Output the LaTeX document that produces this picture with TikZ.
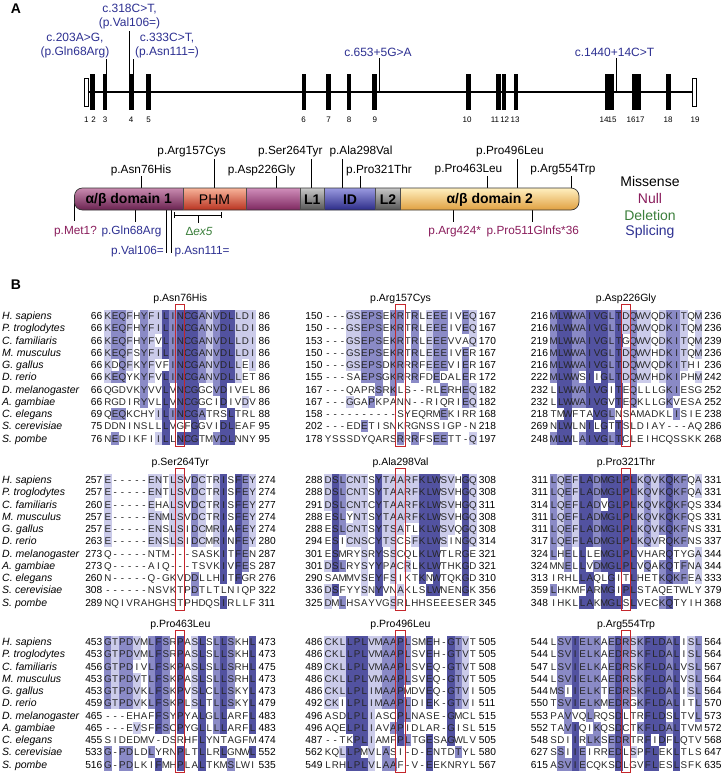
\documentclass[tikz,border=0pt]{standalone}
\usepackage{fontspec}
\setmainfont{Liberation Sans}
\usetikzlibrary{positioning}

\definecolor{var-blue}{HTML}{2D3092}
\definecolor{var-null}{HTML}{8A1D5C}
\definecolor{var-del}{HTML}{3B7F3B}
\definecolor{aln-dark}{RGB}{82,82,160}
\definecolor{aln-mid}{RGB}{138,138,198}
\definecolor{aln-light}{RGB}{203,203,234}
\definecolor{box-red}{HTML}{C4262B}
\definecolor{dom1-top}{HTML}{C98BB0}
\definecolor{dom1-mid}{HTML}{96467A}
\definecolor{dom1-bot}{HTML}{6A2250}
\definecolor{phm-top}{HTML}{F8B49A}
\definecolor{phm-mid}{HTML}{E0604A}
\definecolor{phm-bot}{HTML}{B83220}
\definecolor{cen-top}{HTML}{D08EBA}
\definecolor{cen-mid}{HTML}{A8457F}
\definecolor{cen-bot}{HTML}{7E2860}
\definecolor{lnk-top}{HTML}{C8C8C8}
\definecolor{lnk-mid}{HTML}{8C8C8C}
\definecolor{lnk-bot}{HTML}{555555}
\definecolor{id-top}{HTML}{9A9AE0}
\definecolor{id-mid}{HTML}{5656B4}
\definecolor{id-bot}{HTML}{2C2C88}
\definecolor{dom2-top}{HTML}{FFF0C0}
\definecolor{dom2-mid}{HTML}{F6CB72}
\definecolor{dom2-bot}{HTML}{E0A040}

\tikzset{
  exon/.style={fill=black, minimum width=4.6pt, minimum height=36pt, inner sep=0pt, outer sep=0pt},
  utr/.style={draw=black, fill=white, line width=0.7pt, minimum width=4.2pt, minimum height=28pt, inner sep=0pt, outer sep=0pt},
  exnum/.style={font=\fontsize{8}{8}\selectfont, inner sep=0pt},
  cvar/.style={font=\fontsize{12}{14}\selectfont, text=var-blue, align=center, inner sep=0pt},
  varline/.style={line width=0.8pt},
  plab/.style={font=\fontsize{11.8}{11.8}\selectfont, inner sep=0pt},
  domtext/.style={font=\fontsize{14}{14}\selectfont\bfseries, inner sep=0pt},
  legtext/.style={font=\fontsize{14}{14}\selectfont, inner sep=0pt},
  vtick/.style={line width=0.8pt},
  paneltag/.style={font=\fontsize{14}{14}\selectfont\bfseries, inner sep=0pt},
  species/.style={font=\fontsize{10.5}{10.5}\selectfont\itshape, inner sep=0pt, anchor=base west},
  res/.style={font=\fontsize{9.8}{9.8}\selectfont, text=black!85, inner sep=0pt, anchor=base},
  alnnum/.style={font=\fontsize{10.2}{10.2}\selectfont, inner sep=0pt},
  alntitle/.style={font=\fontsize{10.5}{10.5}\selectfont, inner sep=0pt},
  redbox/.style={draw=box-red, line width=1.1pt},
}

% alignment helpers: split rows into cells, shade by percent identity
\newcount\alncol
\newcount\alnhits
\newcount\alnk
\def\alngap{-}
\def\alnw{7.24}
\def\alnh{12.25}
\def\alnsplit#1#2{%
  \global\alncol=0
  \edef\alnrowid{#1}%
  \expandafter\alnsplitnext#2\relax}
\def\alnsplitnext#1{%
  \ifx#1\relax
  \else
    \global\advance\alncol by 1
    \expandafter\xdef\csname aln@\alnrowid @\the\alncol\endcsname{#1}%
    \expandafter\alnsplitnext
  \fi}
\def\alnshade#1#2{%
  \expandafter\let\expandafter\alnme\csname aln@#1@#2\endcsname
  \global\alnhits=0
  \alnk=0
  \loop\ifnum\alnk<11
    \advance\alnk by 1
    \expandafter\let\expandafter\alnother\csname aln@\the\alnk @#2\endcsname
    \ifx\alnme\alnother\global\advance\alnhits by 1 \fi
  \repeat
  \ifx\alnme\alngap\global\alnhits=0 \fi
  \ifnum\alnhits>8 \def\alnfill{aln-dark}%
  \else\ifnum\alnhits>6 \def\alnfill{aln-mid}%
  \else\def\alnfill{aln-light}%
  \fi\fi}

\newcommand\alnpanel[5]{%
  \foreach \st/\sq/\en [count=\ri] in #5 {\alnsplit{\ri}{\sq}}%
  \foreach \ri in {1,...,11}{%
    \foreach \ci in {1,...,21}{%
      \alnshade{\ri}{\ci}%
      \ifnum\alnhits>4
        \fill[fill=\alnfill] ({#2+(\ci-1)*\alnw-0.1},{#3+(\ri-1.5)*\alnh-0.1}) rectangle ++(\alnw+0.2,\alnh+0.2);
      \fi
    }%
  }%
  \foreach \st/\sq/\en [count=\ri] in #5 {%
    \node[alnnum, anchor=base east] (#1s\ri) at ({#2-1.8},{#3+(\ri-1)*\alnh+3.5}) {\st};
    \node[alnnum, anchor=base west] (#1e\ri) at ({#2+21*\alnw+2.2},{#3+(\ri-1)*\alnh+3.5}) {\en};
    \foreach \ci in {1,...,21}{%
      \node[res] (#1r\ri c\ci) at ({#2+(\ci-0.5)*\alnw},{#3+(\ri-1)*\alnh+3.5}) {\csname aln@\ri @\ci\endcsname};
    }%
  }%
  \draw[redbox] ({#2+10*\alnw-1},{#3-0.5*\alnh-5}) rectangle ({#2+11*\alnw+1},{#3+10.5*\alnh+1.5});
  \node[alntitle] (#1t) at ({#2+10.5*\alnw},{#3-17}) {#4};
}

% sequences
\def\alnrowsA{66/KEQFHYFILINCGANVDLLDI/86,66/KEQFHYFILINCGANVDLLDI/86,%
66/KEQFHYFVLINCGANVDLLDI/86,66/KEQFSYFILINCGANVDLLDI/86,%
66/KDQFKYFVFINCGANVDLLEI/86,66/KEQYKYFVLINCGANVDLLET/86,%
66/QGDVKYVVLVNCGGCVDIVEL/86,66/RGDIRYVLLVNCGGCIDIVDV/86,%
69/QEQKCHYILINCGATRSLTRL/88,75/DDNINSLLLVGFGGVIDLEAF/95,%
76/NEDIKFIILLNCGTMVDLNNY/95}
\def\alnrowsB{150/---GSEPSEKRTRLEEEIVEQ/167,150/---GSEPSEKRTRLEEEIVEQ/167,%
153/---GSEPSEKRTRLEEEVVAQ/170,150/---GSEPSEKRTRLEEEIVER/167,%
150/---GSEPSDKRRRFEEEVIER/167,155/---SAEPSGKRRRFDEDALER/172,%
167/---QAPRSRKLS--RLERHEQ/182,167/---GGAPKPANN--RIQRIEQ/182,%
158/----------SYEQRMEKIRR/168,202/---EDETISNKRGNSSIGP-N/218,%
178/YSSSDYQARSRRRFSEETT-Q/197}
\def\alnrowsC{216/MLWWAIVGLTDQWVQDKITQM/236,216/MLWWAIVGLTDQWVQDKITQM/236,%
219/MLWWAIVGLTGQWVQDKITQM/239,216/MLWWAIVGLTDQWVHDKITQM/236,%
216/MLWWAIVGLTDQWVQDKITHI/236,222/MLWWSIIGLTDQWVHDKIPHM/242,%
232/LLWWAIVGITEQLLLGKIESG/252,232/LLWWAIVGVTEQKLLGKVESA/252,%
218/TMWFTAVGLNSAMADKLISIE/238,269/NLWLNILGTTSLDIAY---AQ/286,%
248/MLWLAIVGLTCLEIHCQSSKK/268}
\def\alnrowsD{257/E-----ENTLSVDCTRISFEY/274,257/E-----ENTLSVDCTRISFEY/274,%
260/E-----EHALSVDCTRISFEY/277,257/E-----ENMLSVDCTRISFEY/274,%
257/E-----ENSLSIDCMRIAFEY/274,263/E-----ENSLSIDCMRINFEY/280,%
273/Q-----NTM---SASKITFEN/287,273/Q-----AIQ---TSVKIVFES/287,%
260/N-----Q-GKVDDLLHITFGR/276,308/------NSVKTPDTLTLNIQP/322,%
289/NQIVRAHGHSTPHDQSIRLLF/311}
\def\alnrowsE{288/DSLCNTSYTAARFKLWSVHGQ/308,288/DSLCNTSYTAARFKLWSVHGQ/308,%
291/DSLCNTCYTAARFKLWSVHGQ/311,288/ESLYNTSYTAARFKLWSVHGQ/308,%
288/ESLCNTSYTSATLKLWSVQGQ/308,294/ESICNSCYTSCSFKLWSINGQ/314,%
301/ESMRYSRYSSCQLKLWTLRGE/321,301/DSLRYSYYPACRLKLWTHKGD/321,%
290/SAMMVSEYFSIKTKNWTQKGD/310,336/DSFYYSNYVNAKLSLWNENGK/356,%
325/DMLHSAYVGSRLHHSEEESER/345}
\def\alnrowsF{311/LQEFLADMGLPLKQVKQKFQA/331,311/LQEFLADMGLPLKQVKQKFQA/331,%
314/LQEFLADVGLPLKQVKQKFQS/334,311/LQEFLADMGLPLKQVKQKFQS/331,%
311/LQEFLADMGLPLKQVKQKFNS/331,317/LQEFLADMGLPLKQVRQKFNS/337,%
324/LHELLLEMGLPLVHARQTYGA/344,324/MNELLVDMGLPLVQAKQTFNA/344,%
313/IRHLLAQLGITLHETKQKFEA/333,359/LHKMFARMGIPLSTAQETWLY/379,%
348/IHKLLAKMGLSLVECKQTYIH/368}
\def\alnrowsG{453/GTPDVMLFSRPASLSLLSKHL/473,453/GTPDVMLFSRPASLSLLSKHL/473,%
456/GTPDIVLFSKPASLSLLSRHL/475,453/GTPDVTLFSKPASLSLLSRHL/473,%
453/GTPDVKLFSKPVSLCLLSKYL/473,459/GTPDVKLFSKPLSLTLLSKYL/479,%
465/---EHAFFSYPYALGLLARFL/483,465/---EVSFFSCPYGLLLLARFL/483,%
455/SIDEDMV-DSRHFLYNTAGFM/474,533/G-PDLDLYRNPLTLLRLGNWL/552,%
516/G-PDLKIFMHPLALTKMSLWI/535}
\def\alnrowsH{486/CKLLPLVMAAPLSMEH-GTVT/505,486/CKLLPLVMAAPLSVEH-GTVT/505,%
489/CKLLPLVMAAPLSVEQ-GTVT/508,486/CKLLPLVMAAPLSVEQ-GTVT/505,%
486/CKLLPLIMAAPMDVEQ-GTVI/505,492/CKILPLIMAAPLDIEK-GTVI/511,%
496/ASDLPLIASCPLNASE-GMCL/515,496/AQELPLIAVAPIDLAR-GISL/515,%
487/--TKPLIAMFPLTGESAGWLV/505,562/KQLLPMVLASI-D-ENTDTYL/580,%
549/LRHLPLVLAAF-V-EEKNRYL/567}
\def\alnrowsI{544/LSVIELKAEDRSKFLDALISL/564,544/LSVIELKAEDRSKFLDALISL/564,%
547/LSVIELKAEDRSKFLDALVSL/567,544/LSVIELKAEDRSKFLDALVSL/564,%
544/MSIIELKTEDRSKFLDALISL/564,550/TSVIELKMEDRGKFLDALITL/570,%
553/PAVVQLRQSDLTRFLDSLTVL/573,552/TAVIQIKQSDCTKFLDALTVM/572,%
548/SDIIRLKSEDRTRFIDFLQTV/568,627/SSIIEIRREDLSPFLEKLTLS/647,%
615/ASVIECQKSDLGVFLESLSFK/635}

\begin{document}
\begin{tikzpicture}[x=1pt, y=-1pt]
  \fill[white] (0,0) rectangle (725,774);
  \useasboundingbox (0,0) rectangle (725,774);

  % A: gene structure
  \node[paneltag] (tagA) at (16,9) {A};
  \node[utr] (ex1) at (86.3,92) {};
  \node[utr] (ex19) at (694,92) {};
  \draw[line width=2.4pt] (ex1.east) -- (ex19.west);
  \foreach \n/\x in {2/92.3,3/104.8,4/131.2,5/148.5,6/303.8,7/328.2,8/349,9/374.3,10/468.5,
      11/498.5,12/504,13/515.8,14/607.3,15/612,16/634,17/638.5,18/668.7}
    \node[exon] (ex\n) at (\x,92) {};
  \foreach \n/\x in {1/86.4,2/93.5,3/105,4/131,5/148.6,6/303.7,7/328.5,8/349,9/374.8,10/467,
      11/495,12/504.7,13/515,14/604,15/612,16/631,17/640,18/668,19/695}
    \node[exnum] (exn\n) at (\x,120) {\n};

  \node[cvar] (v318) at (129.5,17) {c.318C>T,\\(p.Val106=)};
  \node[cvar] (v203) at (75,45.5) {c.203A>G,\\(p.Gln68Arg)};
  \node[cvar] (v333) at (167,45.5) {c.333C>T,\\(p.Asn111=)};
  \node[cvar] (v653) at (378,52) {c.653+5G>A};
  \node[cvar] (v1440) at (614.5,52) {c.1440+14C>T};
  \draw[varline] (106.5,59) -- (106.5,59 |- ex3.north);
  \draw[varline] (129.5,31) -- (129.5,31 |- ex4.north);
  \draw[varline] (133.2,59) -- (133.2,59 |- ex4.north);
  \draw[varline] (379.5,58) -- (379.5,92);
  \draw[varline] (616,58) -- (616,92);

  % A: protein
  \foreach \x/\y in {214.4/159,141.5/176,276.2/176,311/159,342.7/159,360/176,487.8/176,517.8/159,571.5/176}
    \draw[vtick] (\x,\y) -- (\x,190);
  \draw[vtick] (74.5,199) -- (74.5,221);
  \foreach \x in {135.8,453.4,532.8}
    \draw[vtick] (\x,208) -- (\x,222);
  \foreach \x in {166.5,171.5}
    \draw[vtick] (\x,208) -- (\x,253);
  \draw[vtick] (174.5,212) -- (174.5,218) (174.5,215) -- (221.5,215)
    (221.5,212) -- (221.5,218) (198,215) -- (198,223);

  \begin{scope}
    \clip[rounded corners=8pt] (74.5,188) rectangle (579,210);
    \shade[top color=dom1-top, middle color=dom1-mid, bottom color=dom1-bot] (74.5,188) rectangle (183,210);
    \shade[top color=phm-top, middle color=phm-mid, bottom color=phm-bot] (183,188) rectangle (246,210);
    \shade[top color=cen-top, middle color=cen-mid, bottom color=cen-bot] (246,188) rectangle (299.8,210);
    \shade[top color=lnk-top, middle color=lnk-mid, bottom color=lnk-bot] (299.8,188) rectangle (324.7,210);
    \shade[top color=id-top, middle color=id-mid, bottom color=id-bot] (324.7,188) rectangle (375.3,210);
    \shade[top color=lnk-top, middle color=lnk-mid, bottom color=lnk-bot] (375.3,188) rectangle (400.6,210);
    \shade[top color=dom2-top, middle color=dom2-mid, bottom color=dom2-bot] (400.6,188) rectangle (579,210);
  \end{scope}
  \draw[line width=0.7pt, black!80, rounded corners=8pt] (74.5,188) rectangle (579,210);
  \foreach \x in {183,246,299.8,324.7,375.3,400.6}
    \draw[line width=0.5pt, black!70] (\x,188) -- (\x,210);

  \node[domtext] (dom1) at (128.7,199.5) {α/β domain 1};
  \node[domtext, font=\fontsize{14}{14}\selectfont] (phm) at (214.5,199.5) {PHM};
  \node[domtext] (lk1) at (312.2,199.5) {L1};
  \node[domtext] (idr) at (350,199.5) {ID};
  \node[domtext] (lk2) at (388,199.5) {L2};
  \node[domtext] (dom2) at (489.8,199.5) {α/β domain 2};

  \node[plab] (m157) at (191.6,151.7) {p.Arg157Cys};
  \node[plab] (m264) at (290.3,151.7) {p.Ser264Tyr};
  \node[plab] (m298) at (361,151.7) {p.Ala298Val};
  \node[plab] (m496) at (510,151.7) {p.Pro496Leu};
  \node[plab] (m76) at (141,170) {p.Asn76His};
  \node[plab] (m226) at (261.6,170) {p.Asp226Gly};
  \node[plab] (m321) at (379,170) {p.Pro321Thr};
  \node[plab] (m463) at (468.5,170) {p.Pro463Leu};
  \node[plab] (m554) at (562.9,170) {p.Arg554Trp};

  \node[plab, text=var-null] (n1) at (75.5,231.7) {p.Met1?};
  \node[plab, text=var-blue] (s68) at (131.5,231.7) {p.Gln68Arg};
  \node[plab, text=var-del] (dex5) at (199,231.7) {Δ\textit{ex5}};
  \node[plab, text=var-null] (n424) at (454.7,231.7) {p.Arg424*};
  \node[plab, text=var-null] (n511) at (532.8,231.7) {p.Pro511Glnfs*36};
  \node[plab, text=var-blue] (s106) at (137.5,251.7) {p.Val106=};
  \node[plab, text=var-blue] (s111) at (202,251.7) {p.Asn111=};

  \node[legtext] (leg1) at (650,181.7) {Missense};
  \node[legtext, text=var-null] (leg2) at (650,198.3) {Null};
  \node[legtext, text=var-del] (leg3) at (650,215.7) {Deletion};
  \node[legtext, text=var-blue] (leg4) at (650,232.3) {Splicing};

  % B: alignments
  \node[paneltag] (tagB) at (16,285) {B};
  \foreach \yy in {316,480,642}{
    \foreach \sp [count=\ri] in {H. sapiens,P. troglodytes,C. familiaris,M. musculus,G. gallus,
        D. rerio,D. melanogaster,A. gambiae,C. elegans,S. cerevisiae,S. pombe}
      \node[species] (sp\yy-\ri) at (2,{\yy+(\ri-1)*12.25+3.6}) {\sp};
  }
  \alnpanel{a}{104.3}{316}{p.Asn76His}{\alnrowsA}
  \alnpanel{b}{324.5}{316}{p.Arg157Cys}{\alnrowsB}
  \alnpanel{c}{550}{316}{p.Asp226Gly}{\alnrowsC}
  \alnpanel{d}{104.3}{480}{p.Ser264Tyr}{\alnrowsD}
  \alnpanel{e}{324.5}{480}{p.Ala298Val}{\alnrowsE}
  \alnpanel{f}{550}{480}{p.Pro321Thr}{\alnrowsF}
  \alnpanel{g}{104.3}{642}{p.Pro463Leu}{\alnrowsG}
  \alnpanel{h}{324.5}{642}{p.Pro496Leu}{\alnrowsH}
  \alnpanel{i}{550}{642}{p.Arg554Trp}{\alnrowsI}
\end{tikzpicture}
\end{document}
